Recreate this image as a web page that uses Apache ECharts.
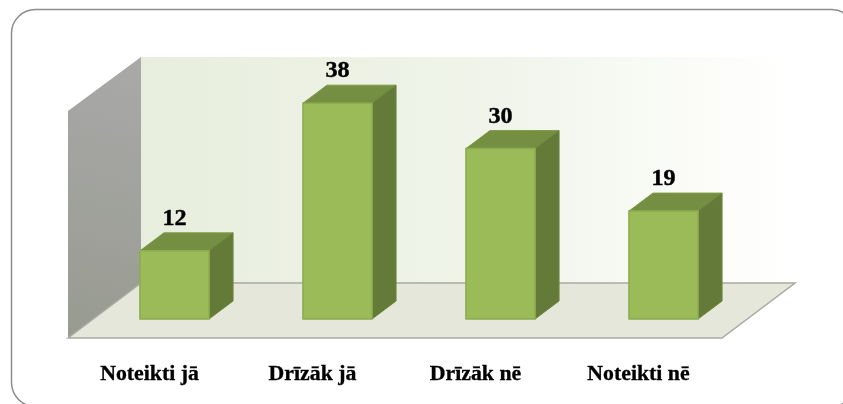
<!DOCTYPE html>
<html>
<head>
<meta charset="utf-8">
<title>Noteikti</title>
<style>
html,body{margin:0;padding:0;background:#fff;overflow:hidden;}
#chart{width:843px;height:404px;}
</style>
<script src="https://cdn.jsdelivr.net/npm/echarts@6/dist/echarts.min.js"></script>
</head>
<body>
<div id="chart"></div>
<script>
const categories = ['Noteikti jā', 'Drīzāk jā', 'Drīzāk nē', 'Noteikti nē'];
const values = [12, 38, 30, 19];

const depthX = 24;
const depthY = 18;
const fontFamily = '"Liberation Serif", serif';

const myChart = echarts.init(document.getElementById('chart'));

// bar as three faces, the front one comes from the axes
function renderBar(params, api) {
    const i = api.value(0);
    const top = api.coord([i, api.value(1)]);
    const base = api.coord([i, 0]);
    const w = api.size([1, 0])[0] * 0.424;
    const l = top[0] - w / 2;
    const r = top[0] + w / 2;
    return {
        type: 'group',
        children: [
            {
                type: 'polygon',
                shape: { points: [[l, top[1]], [l + depthX, top[1] - depthY], [r + depthX, top[1] - depthY], [r, top[1]]] },
                style: { fill: '#758f42', stroke: '#7f9a48', lineWidth: 1 }
            },
            {
                type: 'polygon',
                shape: { points: [[r, top[1]], [r + depthX, top[1] - depthY], [r + depthX, base[1] - depthY], [r, base[1]]] },
                style: { fill: '#647a38', stroke: '#6c853c', lineWidth: 1 }
            },
            {
                type: 'rect',
                shape: { x: l, y: top[1], width: w, height: base[1] - top[1] },
                style: { fill: '#9bbb59', stroke: '#8bac4f', lineWidth: 1.5 }
            },
            {
                type: 'text',
                x: top[0],
                y: top[1] - 32,
                scaleX: 1.05,
                style: {
                    text: String(api.value(1)),
                    fill: '#000',
                    stroke: '#000',
                    lineWidth: 0.4,
                    font: 'bold 23px ' + fontFamily,
                    align: 'center',
                    verticalAlign: 'middle'
                }
            },
            {
                type: 'text',
                x: base[0] - 25,
                y: base[1] + 56,
                scaleX: 1.09,
                style: {
                    text: categories[i],
                    fill: '#000',
                    stroke: '#000',
                    lineWidth: 0.3,
                    font: 'bold 20px ' + fontFamily,
                    align: 'center',
                    verticalAlign: 'middle'
                }
            }
        ]
    };
}

const option = {
    animation: false,
    backgroundColor: '#fff',
    grid: { left: 93, top: 35, width: 652, height: 284 },
    xAxis: { type: 'category', data: categories, show: false },
    yAxis: { type: 'value', min: 0, max: 50, show: false },
    graphic: [
        {
            type: 'rect',
            z: 0,
            shape: { x: 11.5, y: 9.5, width: 844, height: 397, r: 24 },
            style: { fill: '#fff', stroke: '#8c8c8c', lineWidth: 1.5 }
        },
        {
            type: 'rect',
            z: 1,
            shape: { x: 141, y: 57, width: 654, height: 226 },
            style: {
                fill: new echarts.graphic.LinearGradient(0, 0, 1, 0, [
                    { offset: 0, color: '#e8eedd' },
                    { offset: 0.55, color: '#f0f4ea' },
                    { offset: 0.85, color: '#fbfcf8' },
                    { offset: 1, color: '#ffffff' }
                ])
            }
        },
        {
            type: 'polygon',
            z: 1,
            shape: { points: [[68, 111], [141, 57], [141, 283], [68, 338]] },
            style: {
                fill: new echarts.graphic.LinearGradient(1, 0, 0, 1, [
                    { offset: 0, color: '#a9a9a9' },
                    { offset: 1, color: '#989b90' }
                ])
            }
        },
        {
            type: 'polygon',
            z: 1,
            shape: { points: [[68, 338], [141, 283], [795, 283], [722, 338]] },
            style: { fill: '#e4e7da', stroke: '#a9aaa2', lineWidth: 1.5 }
        }
    ],
    series: [
        {
            type: 'custom',
            z: 5,
            renderItem: renderBar,
            clip: false,
            encode: { x: 0, y: 1 },
            data: values.map((v, i) => [i, v])
        }
    ]
};
myChart.setOption(option);
</script>
</body>
</html>
